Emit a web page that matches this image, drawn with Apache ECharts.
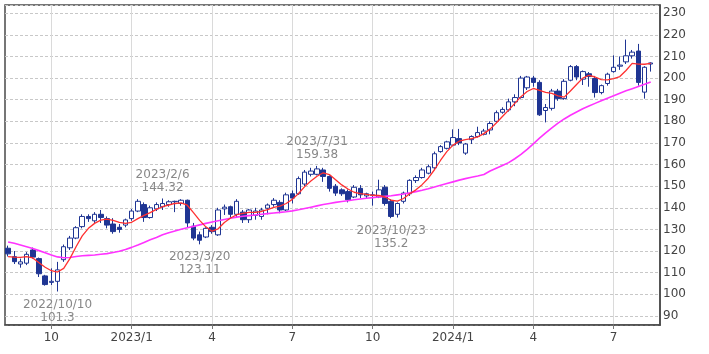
<!DOCTYPE html>
<html>
<head>
<meta charset="utf-8">
<script src="https://cdn.jsdelivr.net/npm/echarts@6/dist/echarts.min.js"></script>
<style>
html, body { margin: 0; padding: 0; background: #fff; }
#main { width: 709px; height: 354px; }
</style>
</head>
<body>
<div id="main"></div>
<script>
// weekly bars (Monday of each week)
var weeks = [
  '2022/8/15','2022/8/22','2022/8/29','2022/9/5','2022/9/12','2022/9/19','2022/9/26',
  '2022/10/3','2022/10/10','2022/10/17','2022/10/24','2022/10/31','2022/11/7','2022/11/14',
  '2022/11/21','2022/11/28','2022/12/5','2022/12/12','2022/12/19','2022/12/26',
  '2023/1/2','2023/1/9','2023/1/16','2023/1/23','2023/1/30','2023/2/6','2023/2/13',
  '2023/2/20','2023/2/27','2023/3/6','2023/3/13','2023/3/20','2023/3/27',
  '2023/4/3','2023/4/10','2023/4/17','2023/4/24','2023/5/1','2023/5/8','2023/5/15',
  '2023/5/22','2023/5/29','2023/6/5','2023/6/12','2023/6/19','2023/6/26',
  '2023/7/3','2023/7/10','2023/7/17','2023/7/24','2023/7/31','2023/8/7','2023/8/14',
  '2023/8/21','2023/8/28','2023/9/4','2023/9/11','2023/9/18','2023/9/25',
  '2023/10/2','2023/10/9','2023/10/16','2023/10/23','2023/10/30','2023/11/6','2023/11/13',
  '2023/11/20','2023/11/27','2023/12/4','2023/12/11','2023/12/18','2023/12/25',
  '2024/1/1','2024/1/8','2024/1/15','2024/1/22','2024/1/29','2024/2/5','2024/2/12',
  '2024/2/19','2024/2/26','2024/3/4','2024/3/11','2024/3/18','2024/3/25',
  '2024/4/1','2024/4/8','2024/4/15','2024/4/22','2024/4/29','2024/5/6','2024/5/13',
  '2024/5/20','2024/5/27','2024/6/3','2024/6/10','2024/6/17','2024/6/24',
  '2024/7/1','2024/7/8','2024/7/15','2024/7/22','2024/7/29','2024/8/5','2024/8/12',
  '2024/8/19'
];

var opens = [
  121.3,117.4,114,114.4,120.5,116.5,108.5,105.5,106,116,121.5,126,131.3,136,134,137,135,132.5,131,132,
  135,138.5,141.5,135.5,139.5,140.5,141.5,142.8,142,143.5,131.5,127.5,126.5,131,127.5,139.5,140.5,137,138,134.5,
  136.5,136,139.8,141.5,142.5,139,146.5,146.5,151,155.5,155.5,157.5,154.5,150,148.3,147.5,145,149,145.5,145.8,
  145,149.5,143,137,143,146.5,152.6,154,156,158.5,166,167.5,169,172,165.3,171.5,173,174,176,180,
  184.2,185.3,189,191,195.5,200,198,185,186,194,190.5,199,205.3,199.5,202,199.8,193.3,197.5,203,205.5,
  207.5,210.3,212.5,193.5,206.5
];
var closes = [
  118.7,115.1,115,118.5,117.2,109.5,104.5,106,111.3,122,126,130.8,136,135,137,135.5,132,129,130,134.4,
  138.5,143,135.5,140,141.5,142,142.8,143,143.5,133,126,125,130.5,129,139,140.3,137,143,134.5,139,
  138.5,139,141.3,143.5,139,146,144.5,153.5,156.5,157,158,154.5,149,146.8,146.5,143.7,149.5,146,146.5,146,
  148.3,142,136,142,146.8,152.7,154,157.5,159,165,168.3,170.5,172.5,170,169.5,173,174.8,175.5,179,184,
  185.5,189,191,200,200.5,198,183,186.4,194,190.5,198.5,205.3,200.5,203,200.7,193.3,196.5,201.8,205,206,
  210.3,212,198,205,207
];
var lows = [
  117.5,114,112.3,113.5,116.5,108,104,104.3,101.3,115,120.5,125.5,130.5,133.5,133,133,130.5,128,128.5,131,
  134,138,133.5,135,138.5,139,140.5,138,141,131,125,123.11,126,128,127,136.7,135,135.5,133,133,
  134.5,134.5,137,140.5,137.5,138.5,142,146,150,154.5,155,152,147.5,145.5,145.5,142.5,144.5,144.5,144.5,141,
  144.5,141,135.2,135.5,142,145.5,151.5,153.5,155.5,158,165.5,167,168.5,169,164.5,169.5,172.5,173.5,174,179.5,
  183.5,184.5,187,190.5,194.5,196,182.5,179.5,185,189.5,190,198.5,199,196.8,196,191,192.5,196.5,202.5,203.8,
  206.5,209,196.5,190.5,203
];
var highs = [
  122.5,120,116.5,119.5,121.6,117,109,112,115,123,127,131.5,137,137,138,139,136,135.2,132.5,135,
  139.5,144,142.5,141,142.5,144.32,143.5,143.3,144,143.8,133,129,131,132,140,141.5,141,144,139,139.5,
  140,140,142,144.5,143.5,147,148,154.5,157.5,158.5,159.38,158.5,155,151,149,148.5,150.5,150.5,147,147.5,
  153,150.5,144,142.5,147.5,153.2,155,158.5,160,166,169,171,176.3,176.5,170,173.5,177.5,176.5,180,185,
  186.5,190.5,192.5,201,201,201,199,188,195,195,199.5,206,206,203.5,202.8,201,197,202.5,210.5,210,
  217.8,213,215.8,205.5,207.3
];

// short (red) and long (magenta) moving average lines
var maShort = [
  117.4,117.2,117.1,117.4,116.8,114.6,112.5,110.9,110.3,112,116.5,122,127,130.5,132.8,134.3,134.8,134.2,133.3,132.8,
  133.3,135,136.5,137.8,139.3,140.5,141.3,142,142.3,141.2,137.8,134.2,131.2,129.2,130.3,133.2,135.3,136.8,137.4,137.9,
  137.9,138.3,139.2,140.2,140.8,142,143.9,146.6,149.8,152.4,154.6,156.2,155.4,153,150.6,148.7,147.2,146.6,146.2,145.8,
  145.7,145,143.5,143.1,144.3,146.5,148.3,150.7,153.7,157.6,162,166,169,170.8,171.5,172,172.8,174.3,176.4,179.2,
  182.2,185.2,188.3,191.4,193.8,195.2,194.3,193.4,192.9,191.8,191.2,194,197,200,201.3,200.5,199.3,199.2,199.8,200.7,
  203.5,206.8,206.5,206.4,206.8
];
var maLong = [
  124.2,123.6,122.8,122,121.2,120.2,119.2,118.2,117.3,116.9,117,117.5,117.8,118,118.2,118.5,118.8,119.3,119.9,120.7,
  121.7,122.8,124,125.2,126.3,127.5,128.5,129.3,130.1,130.8,131.4,132.1,132.8,133.4,134,134.6,135.2,135.7,136.1,136.4,
  136.7,137,137.3,137.6,137.9,138.2,138.6,139.1,139.7,140.3,140.9,141.5,142,142.5,142.9,143.3,143.7,144.1,144.4,144.7,
  145,145.3,145.6,146,146.4,146.9,147.5,148.1,148.8,149.6,150.4,151.2,152,152.8,153.5,154.1,154.7,155.4,157,158.3,
  159.6,160.9,162.7,164.7,167,169.6,172.2,174.7,177,179.2,181.1,182.8,184.3,185.8,187.1,188.3,189.5,190.7,191.8,193,
  194.1,195.1,196.1,197.1,198.2
];

// marked highs / lows
var noteDates = ['2022/10/10', '2023/2/6', '2023/3/20', '2023/7/31', '2023/10/23'];
var noteValues = [101.3, 144.32, 123.11, 159.38, 135.2];

var candles = opens.map(function (o, i) {
  return [o, closes[i], lows[i], highs[i]];
});

function isQuarterStart(idx) {
  var p = weeks[idx].split('/');
  var m = +p[1], d = +p[2];
  return d <= 7 && m % 3 === 1;
}

var notes = noteDates.map(function (d, i) {
  var idx = weeks.indexOf(d);
  var below = lows[idx] === noteValues[i];
  return {
    coord: [d, noteValues[i]],
    value: noteValues[i],
    label: { position: below ? 'bottom' : 'top', distance: below ? 6 : 4 }
  };
});

var navy = '#1f3593';
var chart = echarts.init(document.getElementById('main'), null, { renderer: 'canvas' });

chart.setOption({
  animation: false,
  textStyle: { fontFamily: 'DejaVu Sans' },
  grid: {
    left: 5, right: 49, top: 5, bottom: 29,
    show: true, borderColor: '#4a4a4a', borderWidth: 1.5, backgroundColor: '#fff'
  },
  xAxis: {
    type: 'category',
    data: weeks,
    boundaryGap: true,
    axisLine: { show: true, lineStyle: { color: '#4a4a4a', width: 1.5 } },
    axisTick: {
      show: true, alignWithLabel: true, length: 4,
      interval: function (i) { return isQuarterStart(i); },
      lineStyle: { color: '#777' }
    },
    axisLabel: {
      interval: function (i) { return isQuarterStart(i); },
      formatter: function (v) {
        var p = v.split('/');
        return p[1] === '1' ? p[0] + '/1' : p[1];
      },
      color: '#444', fontSize: 12, margin: 7, fontFamily: 'DejaVu Sans'
    },
    splitLine: {
      show: true, alignWithLabel: true,
      interval: function (i) { return isQuarterStart(i); },
      lineStyle: { color: '#dadada', width: 1 }
    }
  },
  yAxis: {
    type: 'value',
    position: 'right',
    min: 85.8,
    max: 233.8,
    splitNumber: 15,
    axisLine: { show: true, lineStyle: { color: '#4a4a4a', width: 1.5 } },
    axisTick: { show: false },
    axisLabel: {
      showMinLabel: false, showMaxLabel: false,
      color: '#444', fontSize: 12, margin: 3, fontFamily: 'DejaVu Sans',
      formatter: function (v) { return v % 10 === 0 ? String(v) : ''; }
    },
    splitLine: { show: true, lineStyle: { color: '#c8c8c8', type: [3, 2] } }
  },
  series: [
    {
      type: 'candlestick',
      data: candles,
      barWidth: 5,
      itemStyle: {
        color: '#ffffff', color0: navy,
        borderColor: navy, borderColor0: navy, borderWidth: 1
      },
      markPoint: {
        symbol: 'circle',
        symbolSize: 1,
        itemStyle: { color: 'rgba(0,0,0,0)' },
        label: {
          show: true,
          color: '#888',
          fontSize: 12,
          lineHeight: 13,
          fontFamily: 'DejaVu Sans',
          formatter: function (p) { return p.data.coord[0] + '\n' + p.data.value; }
        },
        data: notes
      }
    },
    {
      type: 'line',
      data: maLong,
      symbol: 'none',
      lineStyle: { color: '#ff33ff', width: 1.6 }
    },
    {
      type: 'line',
      data: maShort,
      symbol: 'none',
      lineStyle: { color: '#ff3030', width: 1.3 }
    }
  ]
});
</script>
</body>
</html>
